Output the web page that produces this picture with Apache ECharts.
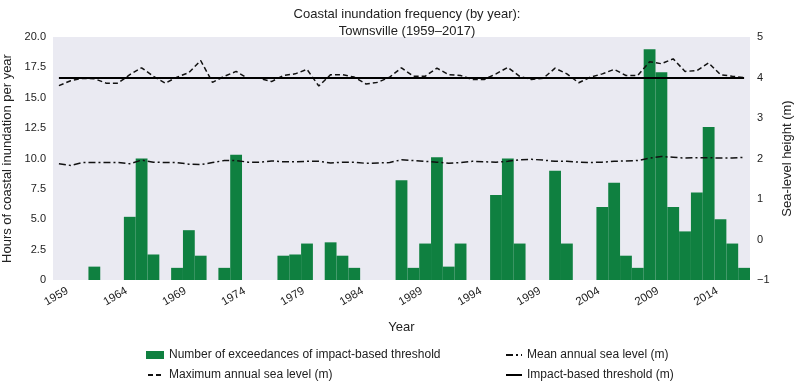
<!DOCTYPE html>
<html>
<head>
<meta charset="utf-8">
<script src="https://cdn.jsdelivr.net/npm/echarts@6/dist/echarts.min.js"></script>
<style>
html,body{margin:0;padding:0;background:#fff;}
#chart{width:794px;height:383px;}
</style>
</head>
<body>
<div id="chart"></div>
<script>
const years = [1959,1960,1961,1962,1963,1964,1965,1966,1967,1968,1969,1970,1971,1972,1973,1974,1975,1976,1977,1978,1979,1980,1981,1982,1983,1984,1985,1986,1987,1988,1989,1990,1991,1992,1993,1994,1995,1996,1997,1998,1999,2000,2001,2002,2003,2004,2005,2006,2007,2008,2009,2010,2011,2012,2013,2014,2015,2016,2017];
const exceedances = [0,0,0,1.1,0,0,5.2,10.0,2.1,0,1.0,4.1,2.0,0,1.0,10.3,0,0,0,2.0,2.1,3.0,0,3.1,2.0,1.0,0,0,0,8.2,1.0,3.0,10.1,1.1,3.0,0,0,7.0,10.0,3.0,0,0,9.0,3.0,0,0,6.0,8.0,2.0,1.0,19.0,17.1,6.0,4.0,7.2,12.6,5.0,3.0,1.0];
const maxSeaLevel = [3.80,3.92,3.98,3.97,3.86,3.86,4.07,4.24,4.03,3.86,4.01,4.12,4.42,3.88,4.03,4.15,3.98,3.98,3.90,4.05,4.09,4.20,3.79,4.07,4.07,4.01,3.84,3.88,4.01,4.24,4.03,4.03,4.23,4.07,4.05,3.95,3.95,4.09,4.25,4.03,3.95,3.98,4.23,4.09,3.87,4.01,4.09,4.20,4.05,4.05,4.39,4.34,4.46,4.15,4.17,4.36,4.07,4.03,4.00];
const meanSeaLevel = [1.87,1.83,1.90,1.90,1.90,1.90,1.87,1.96,1.91,1.90,1.90,1.86,1.85,1.90,1.95,1.95,1.91,1.91,1.94,1.92,1.92,1.93,1.93,1.89,1.91,1.91,1.88,1.89,1.90,1.97,1.95,1.93,1.91,1.88,1.90,1.93,1.92,1.91,1.93,1.97,1.98,1.96,1.93,1.93,1.91,1.90,1.91,1.93,1.94,1.95,2.01,2.05,2.03,2.01,2.02,2.02,2.01,2.01,2.03];
const threshold = 4.0;
const leftTicks = {min: 0, max: 20, interval: 2.5};
const rightTicks = {min: -1, max: 5, interval: 1};

const FONT = '"Liberation Sans", Arial, sans-serif';
const TXT = '#222';
const chart = echarts.init(document.getElementById('chart'), null, {renderer: 'canvas'});
const names = {
  bar: 'Number of exceedances of impact-based threshold',
  mean: 'Mean annual sea level (m)',
  max: 'Maximum annual sea level (m)',
  thr: 'Impact-based threshold (m)'
};
function legendAt(name, left, top, isLine) {
  const l = {
    orient: 'horizontal', left: left, top: top, itemWidth: isLine ? 16 : 18, itemHeight: 8, itemGap: 8,
    textStyle: {fontFamily: FONT, fontSize: 12, color: TXT},
    data: [isLine ? {name: name} : {name: name, icon: 'rect'}],
    selectedMode: false
  };
  if (isLine) l.itemStyle = {opacity: 0};
  return l;
}
chart.setOption({
  backgroundColor: '#fff',
  animation: false,
  textStyle: {fontFamily: FONT, color: TXT},
  title: {
    text: 'Coastal inundation frequency (by year):\nTownsville (1959–2017)',
    left: 402, textAlign: 'center', top: 1,
    textStyle: {fontFamily: FONT, fontSize: 13, fontWeight: 'normal', color: TXT, lineHeight: 17}
  },
  legend: [
    legendAt(names.bar, 141, 344, false),
    legendAt(names.max, 142, 364, true),
    legendAt(names.mean, 500, 344, true),
    legendAt(names.thr, 500, 364, true)
  ],
  grid: {left: 53, right: 44, top: 37, bottom: 103, show: true, backgroundColor: '#EAEAF2', borderWidth: 0,
    containLabel: false, outerBoundsMode: 'none'},
  xAxis: {
    type: 'category', data: years, boundaryGap: true,
    name: 'Year', nameLocation: 'middle', nameGap: 41,
    nameTextStyle: {fontFamily: FONT, fontSize: 13, color: TXT},
    axisLine: {show: false}, axisTick: {show: false}, splitLine: {show: false},
    axisLabel: {interval: 4, rotate: 30, align: 'center', verticalAlign: 'middle', margin: 15,
      padding: [0, 6, 0, 0],
      fontFamily: FONT, fontSize: 11.5, color: TXT}
  },
  yAxis: [
    {
      type: 'value', min: leftTicks.min, max: leftTicks.max, interval: leftTicks.interval,
      name: 'Hours of coastal inundation per year', nameLocation: 'middle', nameGap: 36, nameRotate: 90,
      nameTextStyle: {fontFamily: FONT, fontSize: 13, color: TXT},
      axisLine: {show: false}, axisTick: {show: false}, splitLine: {show: false},
      axisLabel: {margin: 7, fontFamily: FONT, fontSize: 11, color: TXT,
        formatter: v => v === 0 ? '0' : v.toFixed(1)}
    },
    {
      type: 'value', min: rightTicks.min, max: rightTicks.max, interval: rightTicks.interval, position: 'right',
      name: 'Sea-level height (m)', nameLocation: 'middle', nameGap: 27, nameRotate: 90,
      nameTextStyle: {fontFamily: FONT, fontSize: 13, color: TXT},
      axisLine: {show: false}, axisTick: {show: false}, splitLine: {show: false},
      axisLabel: {margin: 7, fontFamily: FONT, fontSize: 11, color: TXT,
        formatter: v => v < 0 ? '−' + Math.abs(v) : String(v)}
    }
  ],
  series: [
    {
      name: names.bar, type: 'bar', data: exceedances, yAxisIndex: 0,
      barCategoryGap: '0%', itemStyle: {color: '#0F8040'}
    },
    {
      name: names.mean, type: 'line', data: meanSeaLevel, yAxisIndex: 1, symbol: 'none',
      lineStyle: {color: '#111', width: 1.5, type: [7, 3, 2, 3]}, itemStyle: {color: '#111'}
    },
    {
      name: names.max, type: 'line', data: maxSeaLevel, yAxisIndex: 1, symbol: 'none',
      lineStyle: {color: '#111', width: 1.5, type: [5, 3]}, itemStyle: {color: '#111'}
    },
    {
      name: names.thr, type: 'line', data: [], yAxisIndex: 1, symbol: 'none',
      lineStyle: {color: '#000', width: 2, type: 'solid'}, itemStyle: {color: '#000'},
      markLine: {
        silent: true, symbol: 'none', label: {show: false},
        lineStyle: {color: '#000', width: 2, type: 'solid'},
        data: [[{xAxis: String(years[0]), yAxis: threshold}, {xAxis: String(years[years.length - 1]), yAxis: threshold}]]
      }
    }
  ]
});
</script>
</body>
</html>
